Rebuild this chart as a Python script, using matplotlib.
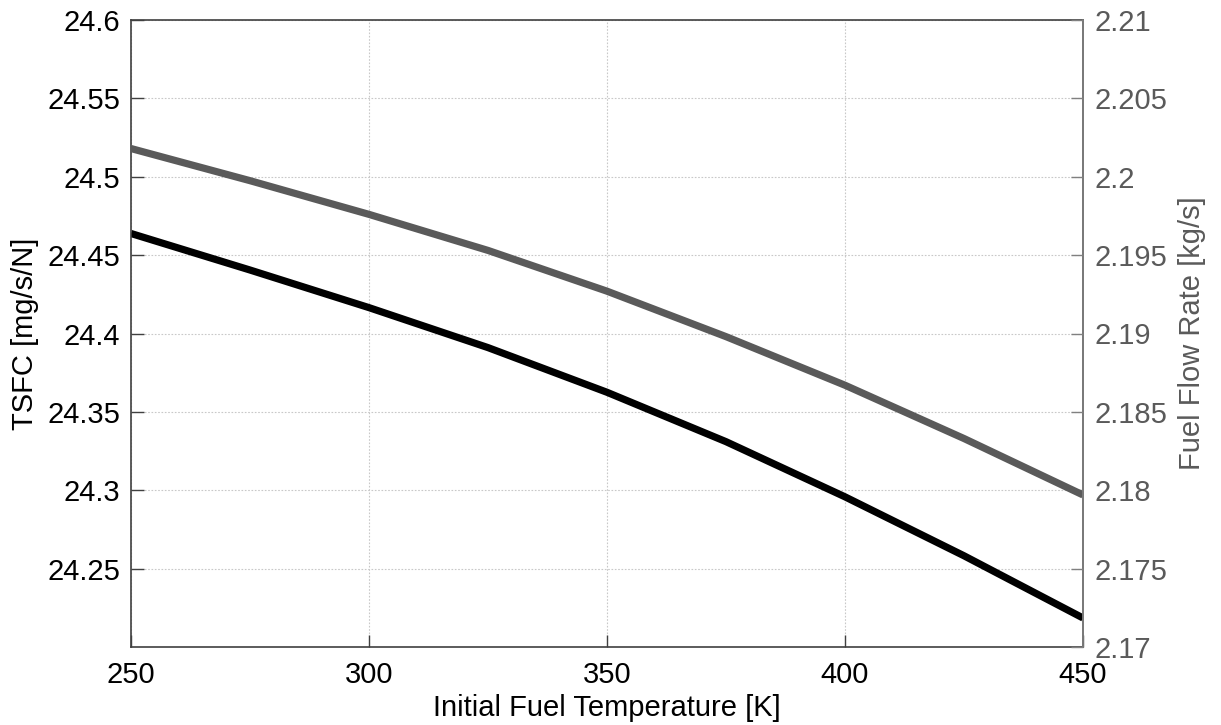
import matplotlib
matplotlib.use("Agg")
import matplotlib.pyplot as plt

plt.rcParams['font.family'] = ['Liberation Sans', 'DejaVu Sans']

temp_k = [250, 275, 300, 325, 350, 375, 400, 425, 450]
tsfc = [24.4638, 24.4405, 24.4165, 24.3910, 24.3625, 24.3310, 24.2958, 24.2582, 24.2185]
fuel_flow = [2.2018, 2.19975, 2.1976, 2.1953, 2.1927, 2.1898, 2.1867, 2.1833, 2.1797]

left_ticks = [24.25, 24.3, 24.35, 24.4, 24.45, 24.5, 24.55, 24.6]
left_labels = ["24.25", "24.3", "24.35", "24.4", "24.45", "24.5", "24.55", "24.6"]
right_ticks = [2.17, 2.175, 2.18, 2.185, 2.19, 2.195, 2.2, 2.205, 2.21]
right_labels = ["2.17", "2.175", "2.18", "2.185", "2.19", "2.195", "2.2", "2.205", "2.21"]
x_ticks = [250, 300, 350, 400, 450]

grey = "#5a5a5a"
fs = 21

fig = plt.figure(figsize=(12.21, 7.25), dpi=100)
ax = fig.add_axes([131 / 1221, 1 - 647 / 725, 952 / 1221, 627 / 725])
ax.plot(temp_k, tsfc, color="black", lw=5.2, solid_capstyle="butt", solid_joinstyle="round")
ax.set_xlim(250, 450)
ax.set_ylim(24.2, 24.6)
ax.set_xticks(x_ticks)
ax.set_yticks(left_ticks)
ax.set_yticklabels(left_labels)
ax.grid(True, color="#c8c8c8", linestyle=(0, (1.5, 1.5)), linewidth=0.8)
ax.tick_params(direction="in", length=9, width=1, labelsize=fs, pad=8, color="#404040")
ax.tick_params(axis="x", pad=10)
ax.set_xlabel("Initial Fuel Temperature [K]", fontsize=fs, labelpad=4)
ax.set_ylabel("TSFC [mg/s/N]", fontsize=fs, labelpad=6)
for s in ax.spines.values():
    s.set_color("#404040")
    s.set_linewidth(1.2)

ax2 = ax.twinx()
ax2.plot(temp_k, fuel_flow, color=grey, lw=5.2, solid_capstyle="butt", solid_joinstyle="round")
ax2.set_ylim(2.17, 2.21)
ax2.set_yticks(right_ticks)
ax2.set_yticklabels(right_labels)
ax2.tick_params(direction="in", length=9, width=1, labelsize=fs, pad=8,
                color="#808080", labelcolor=grey)
ax2.set_ylabel("Fuel Flow Rate [kg/s]", fontsize=fs, color=grey, labelpad=8)
ax2.spines["right"].set_color("#808080")
ax2.spines["right"].set_linewidth(1.2)
ax2.spines["top"].set_visible(False)
ax2.spines["left"].set_visible(False)
ax2.spines["bottom"].set_visible(False)

fig.savefig("out.png", dpi=100)
